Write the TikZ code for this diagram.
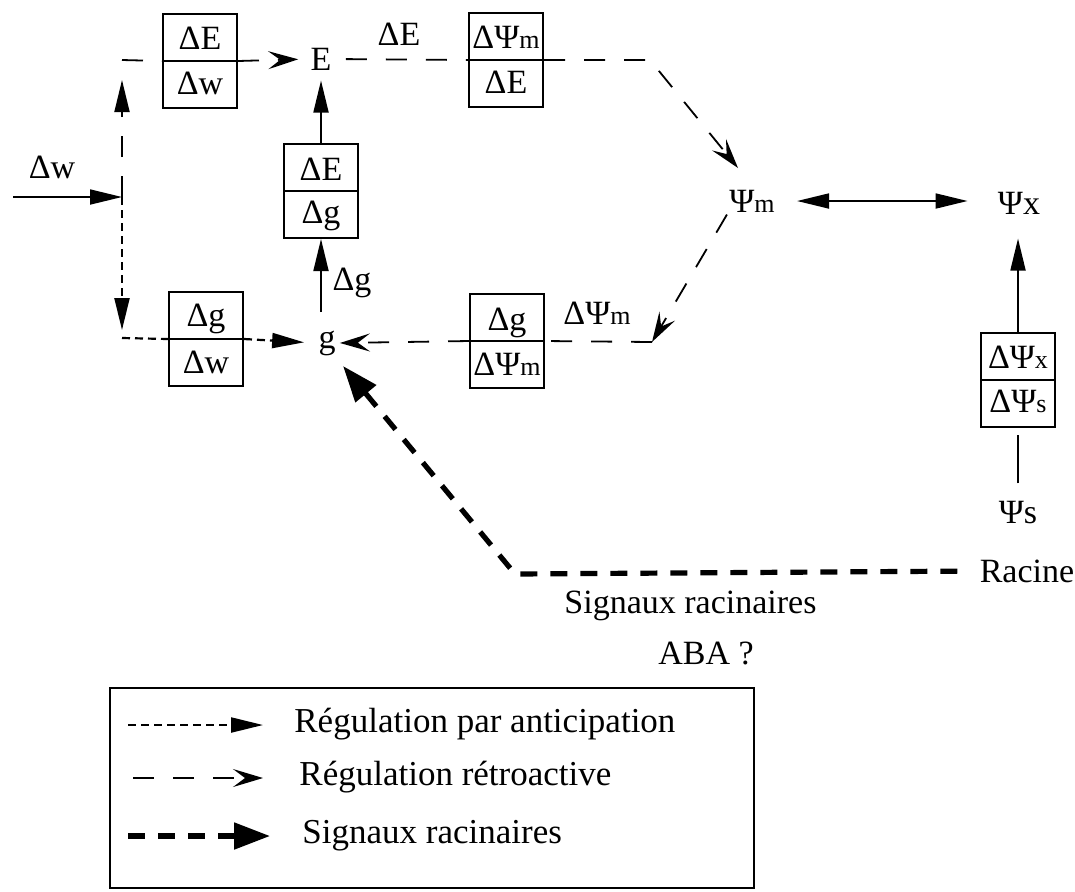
\documentclass[tikz,border=0pt]{standalone}
\usepackage{fontspec}
\setmainfont{Liberation Serif}
\usetikzlibrary{arrows.meta}
\newcommand\ix[1]{{\fontsize{13}{14}\selectfont #1}}
\tikzset{
    every node/.style={inner sep=1pt, font=\fontsize{17}{20}\selectfont}
}
\tikzset{
    fbox/.style={draw, line width=1pt, minimum width=37pt, minimum height=47pt},
    part/.style={anchor=base},
    antic/.style={line width=1.1pt, dash pattern=on 4pt off 2.5pt},
    retro/.style={line width=0.9pt, dash pattern=on 10.5pt off 9.5pt},
    sig/.style={line width=2.6pt, dash pattern=on 8.5pt off 6.5pt},
    plain/.style={line width=0.9pt},
    ta/.style={-{Triangle[length=16pt,width=7.5pt]}},
    ra/.style={-{Stealth[length=15pt,width=9pt,inset=6pt]}},
    sa/.style={-{Triangle[length=18pt,width=13pt]}}
}

\begin{document}
\begin{tikzpicture}[x=0.5pt,y=-0.5pt]
  \useasboundingbox (0,0) rectangle (1075,891);

  \node[fbox] (b1) at (200,61) {};
  \node[part] (b1t) at (200,49) {ΔE};
  \node[part] (b1b) at (200,94) {Δw};

  \node[fbox] (b2) at (321,191) {};
  \node[part] (b2t) at (321,180) {ΔE};
  \node[part] (b2b) at (321,223) {Δg};

  \node[fbox] (b3) at (506,60) {};
  \node[part] (b3t) at (506,48) {ΔΨ\ix{m}};
  \node[part] (b3b) at (506,93) {ΔE};

  \node[fbox] (b4) at (206,339) {};
  \node[part] (b4t) at (206,326) {Δg};
  \node[part] (b4b) at (206,373) {Δw};

  \node[fbox] (b5) at (507,341) {};
  \node[part] (b5t) at (507,330) {Δg};
  \node[part] (b5b) at (507,375) {ΔΨ\ix{m}};

  \node[fbox] (b6) at (1018,380) {};
  \node[part] (b6t) at (1018,368) {ΔΨ\ix{x}};
  \node[part] (b6b) at (1018,412) {ΔΨ\ix{s}};

  \node (E) at (321,59) {E};
  \node (g) at (327,343) {g};
  \node (pm) at (752,201) {Ψ\ix{m}};
  \node (px) at (1019,203) {Ψx};
  \node (ps) at (1018,513) {Ψs};
  \node (rac) at (1027,571) {Racine};

  \node (dwl) at (52,167) {Δw};
  \node (dEl) at (399,34) {ΔE};
  \node (dgl) at (352,283) {Δg};
  \node (dpl) at (597,313) {ΔΨ\ix{m}};
  \node[anchor=west] (sigl) at (562,606) {Signaux racinaires};
  \node (aba) at (706,653) {ABA ?};

  \coordinate (in) at (13,197);
  \coordinate (jn) at (122,197);
  \coordinate (ct) at (122,60);
  \coordinate (cb) at (122,338);
  \coordinate (cr) at (650,60);
  \coordinate (pmt) at (738,168);
  \coordinate (cg) at (652,342);
  \coordinate (cs) at (515,574);
  \coordinate (gt) at (343,366);

  % dividers
  \foreach \b in {b1,b2,b3,b4,b5,b6}
    \draw[line width=1pt] (\b.west) -- (\b.east);

  \draw[plain,ta] (in) -- (jn);
  \draw[retro,ta,shorten >=10pt] (jn) -- (ct);
  \draw[retro] (ct) -- (b1.west);
  \draw[retro,ra,shorten >=5pt] (b1.east) -- (E.west);
  \draw[retro,shorten <=6pt] (E.east) -- (b3.west);
  \draw[retro,ra] (b3.east) -- (cr) -- (pmt);

  \draw[antic,ta,shorten >=4pt] (jn) -- (cb);
  \draw[antic] (cb) -- (b4.west);
  \draw[antic,ta,shorten >=6pt] (b4.east) -- (g.west);

  \draw[plain,ta,shorten <=8pt] (b2.south |- g.north) -- (b2.south);
  \draw[plain,ta,shorten >=4pt] (b2.north) -- (E.south);

  \draw[retro,ra] (pm.south west) -- (cg);
  \draw[retro] (cg) -- (b5.east);
  \draw[retro,ra,shorten >=1pt] (b5.west) -- (g.east);

  \draw[plain,{Triangle[length=16pt,width=7.5pt]}-{Triangle[length=16pt,width=7.5pt]},
        shorten <=10pt,shorten >=14pt] (pm.east) -- (pm.east -| px.west);
  \draw[plain,ta,shorten >=11pt] (b6.north) -- (b6.north |- px.south);
  \draw[plain,shorten <=8pt,shorten >=3.5pt] (ps.north) -- (b6.south);

  \draw[sig,sa,shorten <=10pt] (rac.west) -- (cs) -- (gt);

  % legende
  \node[draw, line width=1pt, minimum width=322pt, minimum height=100pt] (leg) at (432,788) {};
  \coordinate (l1a) at (128,725); \coordinate (l1b) at (263,725);
  \coordinate (l2a) at (133,778); \coordinate (l2b) at (263,778);
  \coordinate (l3a) at (128,836); \coordinate (l3b) at (270,836);
  \draw[antic,ta] (l1a) -- (l1b);
  \draw[retro,ra] (l2a) -- (l2b);
  \draw[sig,sa] (l3a) -- (l3b);
  \node[anchor=base west,font=\fontsize{17.5}{20}\selectfont] (l1t) at (292,732) {Régulation par anticipation};
  \node[anchor=base west,font=\fontsize{17.5}{20}\selectfont] (l2t) at (297,785) {Régulation rétroactive};
  \node[anchor=base west,font=\fontsize{17.5}{20}\selectfont] (l3t) at (300,843) {Signaux racinaires};
\end{tikzpicture}
\end{document}
